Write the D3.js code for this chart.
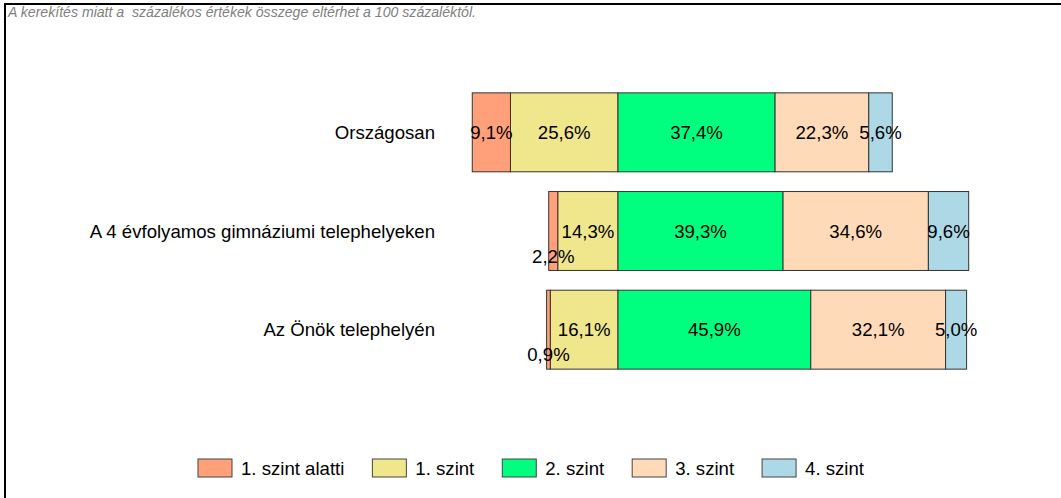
<!DOCTYPE html>
<html>
<head>
<meta charset="utf-8">
<script src="https://cdn.jsdelivr.net/npm/d3@7"></script>
<style>
  body { margin: 0; background: #fff; }
  svg { display: block; font-family: "Liberation Sans", Arial, sans-serif; }
</style>
</head>
<body>
<div id="chart"></div>
<script>
// data
const categories = ["Országosan", "A 4 évfolyamos gimnáziumi telephelyeken", "Az Önök telephelyén"];
const levels = ["1. szint alatti", "1. szint", "2. szint", "3. szint", "4. szint"];
const below1 = [9.1, 2.2, 0.9];
const level1 = [25.6, 14.3, 16.1];
const level2 = [37.4, 39.3, 45.9];
const level3 = [22.3, 34.6, 32.1];
const level4 = [5.6, 9.6, 5.0];
const colors = ["#ffa07a", "#f0e68c", "#00ff7f", "#ffdab9", "#add8e6"];
const note = "A kerekítés miatt a  százalékos értékek összege eltérhet a 100 százaléktól.";

const series = [below1, level1, level2, level3, level4];

const width = 1061, height = 498;
const fs = 18.6;

const svg = d3.select("#chart").append("svg")
    .attr("width", width)
    .attr("height", height);

// frame
svg.append("path")
    .attr("d", `M5,${height} V4 H${width}`)
    .attr("fill", "none")
    .attr("stroke", "#000")
    .attr("stroke-width", 2);

svg.append("text")
    .attr("x", 8).attr("y", 17)
    .attr("font-size", 14.1)
    .attr("font-style", "italic")
    .attr("fill", "#808080")
    .attr("xml:space", "preserve")
    .text(note);

// diverging: zero at boundary between "1. szint" and "2. szint"
const xScale = d3.scaleLinear().domain([-50, 100]).range([408, 1038]);
const yScale = d3.scaleBand().domain(categories).range([83, 379]).paddingInner(0.2).paddingOuter(0.1);

const rows = categories.map((c, i) => {
  let start = -(below1[i] + level1[i]);
  return series.map((s, k) => {
    const seg = {cat: c, level: k, value: s[i], x0: start, x1: start + s[i]};
    start += s[i];
    return seg;
  });
});

const fmt = v => v.toFixed(1).replace(".", ",") + "%";

const rowG = svg.append("g").selectAll("g")
    .data(rows)
    .join("g");

rowG.selectAll("rect")
    .data(d => d)
    .join("rect")
    .attr("x", d => xScale(d.x0))
    .attr("y", d => yScale(d.cat))
    .attr("width", d => xScale(d.x1) - xScale(d.x0))
    .attr("height", yScale.bandwidth())
    .attr("fill", d => colors[d.level])
    .attr("stroke", "#333")
    .attr("stroke-width", 1);

rowG.selectAll("text")
    .data(d => d)
    .join("text")
    .attr("x", d => xScale((d.x0 + d.x1) / 2))
    .attr("y", d => yScale(d.cat) + yScale.bandwidth() / 2 + (d.value < 5 ? 25 : 0))
    .attr("dy", "0.35em")
    .attr("text-anchor", "middle")
    .attr("font-size", fs)
    .attr("fill", "#000")
    .text(d => fmt(d.value));

// category labels
svg.append("g").selectAll("text")
    .data(categories)
    .join("text")
    .attr("x", 435)
    .attr("y", d => yScale(d) + yScale.bandwidth() / 2)
    .attr("dy", "0.35em")
    .attr("text-anchor", "end")
    .attr("font-size", fs)
    .text(d => d);

// legend
const legend = svg.append("g");
let lx = 198;
levels.forEach((l, k) => {
  legend.append("rect")
      .attr("x", lx).attr("y", 459)
      .attr("width", 34).attr("height", 18)
      .attr("fill", colors[k])
      .attr("stroke", "#444");
  const t = legend.append("text")
      .attr("x", lx + 43).attr("y", 468)
      .attr("dy", "0.35em")
      .attr("font-size", fs)
      .text(l);
  lx += 43 + t.node().getComputedTextLength() + 28;
});
</script>
</body>
</html>
